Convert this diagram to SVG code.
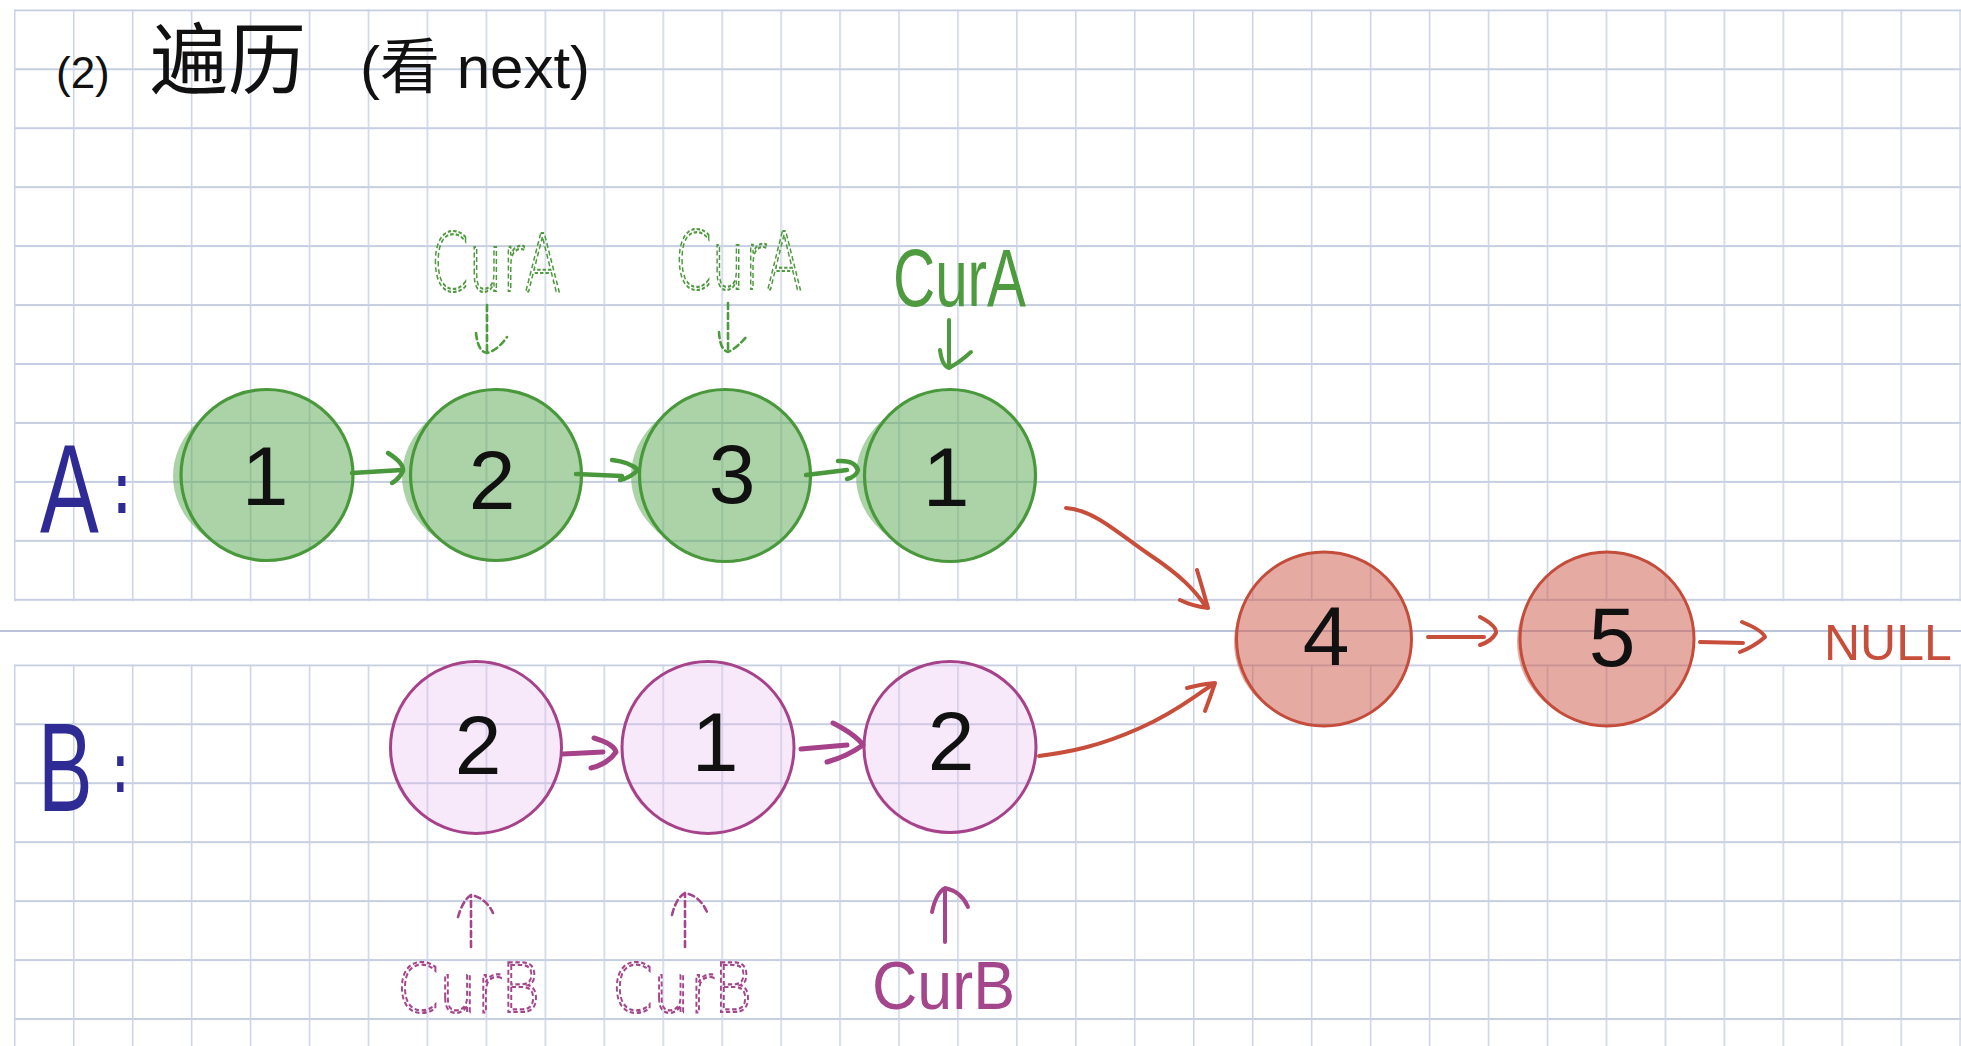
<svg xmlns="http://www.w3.org/2000/svg" width="1961" height="1046" viewBox="0 0 1961 1046">
<defs>
<style>
.digit{font-family:"Liberation Sans","DejaVu Sans",sans-serif;font-size:84px;fill:#111;text-anchor:middle}
.title{font-family:"Liberation Sans","Noto Sans CJK SC",sans-serif;fill:#111}
.lbl{font-family:"Liberation Sans",sans-serif;font-size:126px;fill:#2f2b95}
.colon{font-weight:bold}
.gfill{opacity:0.5;fill:#59a951}
.rfill{opacity:0.5;fill:#cd5747}
.pfill{opacity:0.3;fill:#e7b9ee}
.gst{fill:none;stroke:#4a983c;stroke-width:3.2}
.rst{fill:none;stroke:#c44c3b;stroke-width:3}
.pst{fill:none;stroke:#a5428a;stroke-width:3}
.cA{font-family:"DejaVu Sans",sans-serif;font-weight:200;font-size:80px}
.cB{font-family:"DejaVu Sans",sans-serif;font-weight:200;font-size:68px}
.dashG{fill:none;stroke:#4e9a3e;stroke-width:2.2;stroke-dasharray:5 3}
.dashP{fill:none;stroke:#a4468c;stroke-width:2.2;stroke-dasharray:5 3}
.solG{font-family:"Liberation Sans",sans-serif;font-size:82px;fill:#4e9a3e}
.solP{font-family:"Liberation Sans",sans-serif;font-size:68px;fill:#a4468c}
.nul{font-family:"Liberation Sans",sans-serif;font-size:50px;fill:#c84e3c}
.cg{fill:none;stroke:#4a983c;stroke-width:4.5;stroke-linecap:round;stroke-linejoin:round}
.cr{fill:none;stroke:#c84e3c;stroke-width:4;stroke-linecap:round;stroke-linejoin:round}
.cp{fill:none;stroke:#a5428a;stroke-width:5;stroke-linecap:round;stroke-linejoin:round}
.cgd{fill:none;stroke:#4e9a3e;stroke-width:2.6;stroke-dasharray:6 4;stroke-linecap:round}
.cgs{fill:none;stroke:#4e9a3e;stroke-width:4;stroke-linecap:round;stroke-linejoin:round}
.cpd{fill:none;stroke:#a4468c;stroke-width:2.6;stroke-dasharray:6 4;stroke-linecap:round}
.cps{fill:none;stroke:#a4468c;stroke-width:4;stroke-linecap:round;stroke-linejoin:round}
</style>
<pattern id="gridTop" x="14" y="9.3" width="58.95" height="58.95" patternUnits="userSpaceOnUse">
<path d="M0 1 H58.95" stroke="#c6cee1" stroke-width="2" fill="none"/>
<path d="M0.75 0 V58.95" stroke="#cad2e4" stroke-width="1.5" fill="none"/>
</pattern>
<pattern id="gridBot" x="14" y="664.3" width="58.95" height="58.95" patternUnits="userSpaceOnUse">
<path d="M0 1 H58.95" stroke="#c6cee1" stroke-width="2" fill="none"/>
<path d="M0.75 0 V58.95" stroke="#cad2e4" stroke-width="1.5" fill="none"/>
</pattern>
</defs>
<rect width="1961" height="1046" fill="#ffffff"/>
<g id="grid">
<rect x="14" y="9.3" width="1947" height="592" fill="url(#gridTop)"/>
<rect x="14" y="664.3" width="1947" height="382" fill="url(#gridBot)"/>
<line x1="0" y1="631" x2="1961" y2="631" stroke="#b9c3da" stroke-width="2"/>
</g>
<text id="title" class="title" x="56" y="88"><tspan font-size="44">(2)</tspan><tspan x="150" font-size="78">遍历</tspan><tspan x="360" font-size="60">(看 next)</tspan></text>
<text id="labelA" class="lbl" transform="translate(40 532) scale(0.7 1)">A<tspan class="colon" x="105" dy="-19" font-size="72">:</tspan></text>
<text id="labelB" class="lbl" transform="translate(38 811) scale(0.65 1)" font-size="130">B<tspan class="colon" x="115" dy="-19" font-size="70">:</tspan></text>

<g id="nodeA1"><g class="gfill"><ellipse cx="267" cy="475" rx="85" ry="85"/><ellipse cx="261" cy="476" rx="88" ry="78"/></g><ellipse class="gst" cx="267" cy="475" rx="86" ry="85.5"/><text class="digit" x="265" y="505">1</text></g>
<g id="nodeA2"><g class="gfill"><ellipse cx="496" cy="475" rx="85" ry="85"/><ellipse cx="490" cy="476" rx="88" ry="78"/></g><ellipse class="gst" cx="496" cy="475" rx="85.5" ry="85.5"/><text class="digit" x="492" y="509">2</text></g>
<g id="nodeA3"><g class="gfill"><ellipse cx="725" cy="475" rx="85" ry="85"/><ellipse cx="719" cy="476" rx="88" ry="78"/></g><ellipse class="gst" cx="725" cy="475.5" rx="85.5" ry="86"/><text class="digit" x="732" y="503">3</text></g>
<g id="nodeA4"><g class="gfill"><ellipse cx="950" cy="475" rx="85" ry="85"/><ellipse cx="944" cy="476" rx="88" ry="78"/></g><ellipse class="gst" cx="950" cy="475.5" rx="85.5" ry="86"/><text class="digit" x="946" y="506">1</text></g>

<g id="node4"><g class="rfill"><ellipse cx="1324" cy="639" rx="87" ry="87"/><ellipse cx="1320" cy="642" rx="86" ry="82"/></g><ellipse class="rst" cx="1324" cy="639" rx="87.5" ry="87"/><text class="digit" x="1326" y="665">4</text></g>
<g id="node5"><g class="rfill"><ellipse cx="1607" cy="639" rx="87" ry="87"/><ellipse cx="1603" cy="642" rx="86" ry="82"/></g><ellipse class="rst" cx="1607" cy="639" rx="87" ry="87"/><text class="digit" x="1612" y="666">5</text></g>

<g id="nodeB1"><g class="pfill"><ellipse cx="476" cy="747.5" rx="85" ry="85"/><ellipse cx="473" cy="750" rx="84" ry="84"/></g><ellipse class="pst" cx="476" cy="747.5" rx="85.5" ry="86"/><text class="digit" x="478" y="774">2</text></g>
<g id="nodeB2"><g class="pfill"><ellipse cx="708" cy="747.5" rx="85" ry="85"/><ellipse cx="705" cy="750" rx="84" ry="84"/></g><ellipse class="pst" cx="708" cy="747.5" rx="86" ry="86"/><text class="digit" x="715" y="771">1</text></g>
<g id="nodeB3"><g class="pfill"><ellipse cx="950" cy="747" rx="85" ry="85"/><ellipse cx="947" cy="750" rx="84" ry="84"/></g><ellipse class="pst" cx="950" cy="747" rx="86" ry="85.5"/><text class="digit" x="951" y="770">2</text></g>

<g id="pointerLabels">
<text class="cA dashG" x="431" y="291" textLength="130" lengthAdjust="spacingAndGlyphs">CurA</text>
<text class="cA dashG" x="675" y="289" textLength="127" lengthAdjust="spacingAndGlyphs">CurA</text>
<text class="solG" x="893" y="306" textLength="133" lengthAdjust="spacingAndGlyphs">CurA</text>
<text class="cB dashP" x="397" y="1012" textLength="143" lengthAdjust="spacingAndGlyphs">CurB</text>
<text class="cB dashP" x="612" y="1012" textLength="140" lengthAdjust="spacingAndGlyphs">CurB</text>
<text class="solP" x="872" y="1009" textLength="143" lengthAdjust="spacingAndGlyphs">CurB</text>
<text class="nul" x="1824" y="660">NULL</text>
</g>

<g id="connectors">
<path class="cg" d="M352 473 L402 470 M388 453 Q404 463 403 471 Q399 479 392 483"/>
<path class="cg" d="M576 474 L622 476 M612 460 Q630 462 638 470 Q630 478 620 480"/>
<path class="cg" d="M806 475 L847 470 M838 461 Q855 460 858 470 Q856 477 847 479"/>
<path class="cr" d="M1066 508 C1095 510 1120 535 1150 555 S1195 590 1206 607 M1197 570 Q1203 590 1208 608 Q1192 606 1180 600"/>
<path class="cr" d="M1039 756 C1070 752 1100 746 1140 728 S1195 695 1214 684 M1187 688 Q1202 684 1215 683 Q1210 698 1205 711"/>
<path class="cr" d="M1428 637 L1484 637 M1480 617 Q1497 626 1496 633 Q1492 641 1480 645"/>
<path class="cr" d="M1700 642 L1743 643 M1742 622 Q1762 630 1765 637 Q1755 646 1740 652"/>
<path class="cp" d="M563 754 L603 752 M594 738 Q614 744 616 752 Q608 764 591 768"/>
<path class="cp" d="M801 749 L847 745 M833 723 Q856 735 863 745 Q848 756 827 762"/>
<path class="cgd" d="M487 305 L487 352 M476 333 Q478 352 487 353 Q498 350 507 337"/>
<path class="cgd" d="M728 303 L728 351 M719 332 Q720 350 728 352 Q737 348 747 336"/>
<path class="cgs" d="M949 320 L949 368 M940 350 Q942 366 949 368 Q960 362 971 352"/>
<path class="cpd" d="M471 947 L471 895 M458 917 Q463 900 471 895 Q486 898 493 913"/>
<path class="cpd" d="M685 947 L685 893 M672 915 Q676 898 685 893 Q700 896 707 912"/>
<path class="cps" d="M945 942 L945 888 M932 912 Q936 893 945 888 Q962 892 968 907"/>
</g>
</svg>
